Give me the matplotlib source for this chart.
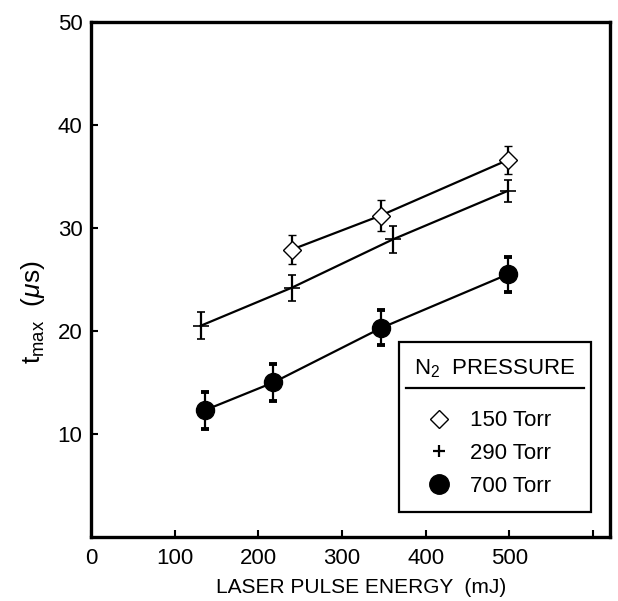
import numpy as np
import matplotlib
matplotlib.use("Agg")
import matplotlib.pyplot as plt
from matplotlib.lines import Line2D

plt.rcParams['font.family'] = ['Liberation Sans', 'DejaVu Sans']
plt.rcParams['mathtext.fontset'] = 'custom'
plt.rcParams['mathtext.rm'] = 'Liberation Sans'
plt.rcParams['mathtext.it'] = 'Liberation Sans:italic'

# N2 150 Torr
e_150 = [240, 346, 498]
t_150 = [27.9, 31.2, 36.6]
err_150 = [1.4, 1.5, 1.4]

# N2 290 Torr
e_290 = [131, 240, 361, 498]
t_290 = [20.5, 24.2, 28.9, 33.6]
err_290 = [1.3, 1.25, 1.3, 1.1]

# N2 700 Torr
e_700 = [136, 218, 347, 498]
t_700 = [12.3, 15.0, 20.3, 25.5]
err_700 = [1.8, 1.75, 1.7, 1.7]

x_ticks = [0, 100, 200, 300, 400, 500, 600]
x_labels = ['0', '100', '200', '300', '400', '500', '']
y_ticks = [10, 20, 30, 40, 50]

fig = plt.figure(figsize=(6.18, 6.01), dpi=100)
ax = fig.add_axes([0.147, 0.1065, 0.84, 0.857])

eb = dict(ecolor='black', elinewidth=1.6, capsize=3, capthick=2.8, color='black', lw=1.6)

ax.errorbar(e_150, t_150, yerr=err_150, fmt='-D', ms=9, mfc='white', mec='black',
            mew=1.0, zorder=3, **eb)
ax.errorbar(e_290, t_290, yerr=err_290, fmt='-+', ms=11, mew=1.2, zorder=3, **eb)
ax.errorbar(e_700, t_700, yerr=err_700, fmt='-o', ms=13, mfc='black', mec='black',
            zorder=3, **eb)

ax.set_xlim(0, 620)
ax.set_ylim(0, 50)
ax.set_xticks(x_ticks)
ax.set_xticklabels(x_labels)
ax.set_yticks(y_ticks)
ax.tick_params(direction='in', length=5, width=1.5, labelsize=16, pad=6)
ax.tick_params(axis='x', pad=8)
for s in ax.spines.values():
    s.set_linewidth(2.4)

ax.set_xlabel('LASER PULSE ENERGY  (mJ)', fontsize=15)
ax.xaxis.set_label_coords(0.52, -0.08)
ax.set_ylabel(r'$\mathregular{t_{max}}$  ($\mathit{\mu}$s)', fontsize=19)
ax.yaxis.set_label_coords(-0.085, 0.437)

handles = [
    Line2D([], [], ls='none', marker='D', ms=9, mfc='white', mec='black', mew=1.0),
    Line2D([], [], ls='none', marker='+', ms=9, mec='black', mew=1.6),
    Line2D([], [], ls='none', marker='o', ms=14, mfc='black', mec='black'),
]
leg = ax.legend(handles, ['150 Torr', '290 Torr', '700 Torr'],
                title=r'N$_\mathregular{2}$  PRESSURE', title_fontsize=16, fontsize=16,
                loc='lower right', bbox_to_anchor=(0.963, 0.0485), borderaxespad=0,
                fancybox=False, edgecolor='black', framealpha=1, handletextpad=0.3,
                labelspacing=0.53, borderpad=0.68, handlelength=2.2)
leg.get_frame().set_linewidth(1.6)
leg._legend_box.align = 'left'
leg._legend_box.sep = 22

# rule under the legend title
fig.canvas.draw()
tb = leg.get_title().get_window_extent()
fb = leg.get_frame().get_window_extent()
inv = ax.transAxes.inverted()
(x0, y0) = inv.transform((fb.x0 + 7, tb.y0 - 8))
(x1, _) = inv.transform((fb.x1 - 7, tb.y0 - 8))
ax.add_line(Line2D([x0, x1], [y0, y0], transform=ax.transAxes,
                   color='black', lw=1.6, zorder=10))

fig.savefig('out.png', dpi=100)
